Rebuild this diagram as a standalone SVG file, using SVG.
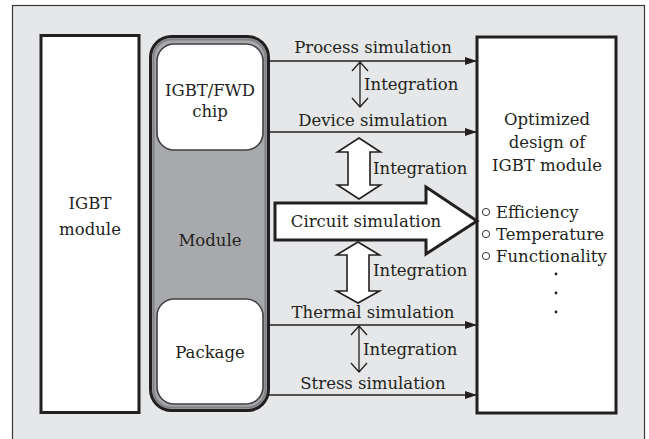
<svg xmlns="http://www.w3.org/2000/svg" width="649" height="439" viewBox="0 0 649 439">
<defs>
<style>
text{font-family:"DejaVu Serif","Liberation Serif",serif;font-size:16.5px;fill:#231f20}
.c{text-anchor:middle}
.box{fill:#fff;stroke:#231f20;stroke-width:3}
.ln{stroke:#231f20;stroke-width:1.3;fill:none}
.hollow{fill:#fff;stroke:#231f20;stroke-width:1.6;stroke-linejoin:miter}
</style>
<marker id="ah" markerWidth="12" markerHeight="8" refX="12" refY="4" orient="auto" markerUnits="userSpaceOnUse">
<path d="M0,0 L12,4 L0,8 z" fill="#231f20"/>
</marker>
</defs>
<rect x="12.5" y="5.5" width="632" height="445" fill="#e6e7e8" stroke="#3a3a3a" stroke-width="1.2"/>

<g id="igbt-module">
<rect class="box" x="41" y="35.5" width="98" height="377"/>
<text class="c" x="90" y="209">IGBT</text>
<text class="c" x="90" y="235">module</text>
</g>

<g id="module">
<rect x="150.5" y="36.5" width="118" height="374" rx="21" fill="#a7a9ac" stroke="#231f20" stroke-width="3"/>
<rect x="153.5" y="39.5" width="112" height="368" rx="18" fill="none" stroke="#808285" stroke-width="2"/>
<text class="c" x="210" y="246">Module</text>
</g>

<g id="chip">
<rect x="157" y="44" width="106" height="106" rx="17" fill="#fff" stroke="#414042" stroke-width="1.6"/>
<text class="c" x="210" y="96">IGBT/FWD</text>
<text class="c" x="210" y="117">chip</text>
</g>

<g id="package">
<rect x="157" y="299" width="106" height="105" rx="17" fill="#fff" stroke="#414042" stroke-width="1.6"/>
<text class="c" x="210" y="358">Package</text>
</g>

<g id="optimized">
<rect class="box" x="477" y="37" width="139" height="376"/>
<text class="c" x="547" y="125">Optimized</text>
<text class="c" x="547" y="148">design of</text>
<text class="c" x="547" y="171">IGBT module</text>
<circle cx="486" cy="212" r="3.6" fill="none" stroke="#231f20" stroke-width="0.9"/>
<text x="496" y="218">Efficiency</text>
<circle cx="486" cy="234" r="3.6" fill="none" stroke="#231f20" stroke-width="0.9"/>
<text x="496" y="240">Temperature</text>
<circle cx="486" cy="256" r="3.6" fill="none" stroke="#231f20" stroke-width="0.9"/>
<text x="496" y="262">Functionality</text>
<circle cx="556" cy="274" r="1.4" fill="#231f20"/>
<circle cx="556" cy="293" r="1.4" fill="#231f20"/>
<circle cx="556" cy="312" r="1.4" fill="#231f20"/>
</g>

<g id="connectors">
<line class="ln" x1="269" y1="61" x2="477" y2="61" marker-end="url(#ah)"/>
<line class="ln" x1="269" y1="132" x2="477" y2="132" marker-end="url(#ah)"/>
<line class="ln" x1="269" y1="325" x2="477" y2="325" marker-end="url(#ah)"/>
<line class="ln" x1="269" y1="395" x2="477" y2="395" marker-end="url(#ah)"/>
<path class="ln" d="M360,62 V107 M352,71 L360,62 L368,71 M352,98 L360,107 L368,98"/>
<path class="ln" d="M359,326 V372 M351,335 L359,326 L367,335 M351,363 L359,372 L367,363"/>
<polygon class="hollow" points="359,138 380.5,152 370,152 370,185 380.5,185 359,199 337.5,185 348,185 348,152 337.5,152"/>
<polygon class="hollow" points="358,242 379.5,255 369,255 369,291 379.5,291 358,303 336.5,291 347,291 347,255 336.5,255"/>
<polygon points="275,203 426,203 426,187 477,221 426,254 426,240 275,240" fill="#fff" stroke="#231f20" stroke-width="3"/>
</g>

<g id="labels">
<text class="c" x="373" y="53">Process simulation</text>
<text class="c" x="373" y="126">Device simulation</text>
<text class="c" x="373" y="318">Thermal simulation</text>
<text class="c" x="373" y="389">Stress simulation</text>
<text x="364" y="90">Integration</text>
<text x="373" y="174">Integration</text>
<text x="373" y="276">Integration</text>
<text x="363" y="355">Integration</text>
<text class="c" x="366" y="227">Circuit simulation</text>
</g>
</svg>
